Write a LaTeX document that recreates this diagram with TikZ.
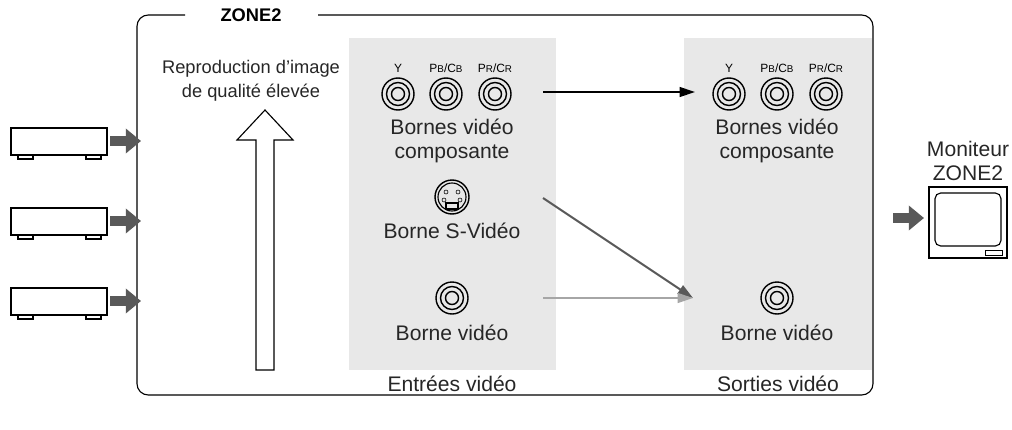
\documentclass[tikz,border=0pt]{standalone}
\usepackage{fontspec}
\setmainfont{Liberation Sans}
\usetikzlibrary{arrows.meta}
\usetikzlibrary{positioning}
\definecolor{panelgray}{gray}{0.91}
\definecolor{arrowgray}{gray}{0.35}
\tikzset{
  lbl/.style={font=\fontsize{15}{17}\selectfont, align=center, text=black!85},
  tiny/.style={font=\fontsize{8.5}{9}\selectfont},
  jack/.style={circle, draw, line width=1pt, minimum size=32*0.025cm, inner sep=0pt},
  blockarrow/.style={arrowgray, line width=0.27cm, -{Triangle[length=0.38cm, width=0.6cm]}},
}
% rca jack with rings
\newcommand{\rcajack}[3]{%
  \node[jack] (#3) at (#1,#2) {};
  \draw[line width=1pt] (#1,#2) circle (11.5);
  \draw[line width=1pt] (#1,#2) circle (6.5);
}
% source device
\newcommand{\srcdev}[2]{%
  \draw[thick, fill=white] (11,#1) rectangle (107,#1+27);
  \draw[thick] (18,#1+27) rectangle (33,#1+31);
  \draw[thick] (86,#1+27) rectangle (101,#1+31);
  \coordinate (#2) at (110,#1+13);
}
\begin{document}
\begin{tikzpicture}[x=0.025cm, y=-0.025cm]
\useasboundingbox (0,0) rectangle (1012,429);
% panels
\fill[panelgray] (349,38) rectangle (556,370);
\fill[panelgray] (684,38) rectangle (872,370);
% zone frame
\draw[thick, rounded corners=8pt] (185,15) -- (137,15) -- (137,395) -- (873,395) -- (873,15) -- (318,15);
\node[font=\fontsize{13}{15}\selectfont\bfseries] (zonetitle) at (251,15) {ZONE2};
% input connectors
\foreach \x/\n/\t in {398/inY/Y, 446/inPb/{P{\scriptsize B}/C{\scriptsize B}}, 495/inPr/{P{\scriptsize R}/C{\scriptsize R}}}{
  \rcajack{\x}{94}{\n}
  \node[tiny] at (\x,68) {\t};
}
\node[lbl] (incomp) at (452,141) {Bornes vidéo\\composante};
% s-video
\node[jack, minimum size=34*0.025cm] (insv) at (452,197) {};
\draw[thick] (452,197) circle (14);
\foreach \dx/\dy in {-6/-5, 6/-5, -8/3, 8/3}{
  \draw (452+\dx,197+\dy) circle (2);
}
\draw[thick] (446,203) rectangle (458,209);
\node[lbl] (insvlbl) at (452,231) {Borne S-Vidéo};
\rcajack{452}{298}{invid}
\node[lbl] (invidlbl) at (452,333) {Borne vidéo};
% output connectors
\foreach \x/\n/\t in {729/outY/Y, 777/outPb/{P{\scriptsize B}/C{\scriptsize B}}, 826/outPr/{P{\scriptsize R}/C{\scriptsize R}}}{
  \rcajack{\x}{94}{\n}
  \node[tiny] at (\x,68) {\t};
}
\node[lbl] (outcomp) at (777,141) {Bornes vidéo\\composante};
\rcajack{777}{298}{outvid}
\node[lbl] (outvidlbl) at (777,333) {Borne vidéo};
% captions
\node[lbl] (inlbl) at (452,384) {Entrées vidéo};
\node[lbl] (outlbl) at (778,384) {Sorties vidéo};
% signal arrows
\coordinate (cfrom) at (543,92);
\coordinate (cto) at (695,92);
\coordinate (sfrom) at (543,198);
\coordinate (vfrom) at (543,298);
\coordinate (vto) at (693,298);
\draw[line width=1.4pt, -{Triangle[length=11pt, width=7pt]}] (cfrom) -- (cto);
\draw[line width=1.4pt, black!65, -{Triangle[length=11pt, width=7pt]}] (sfrom) -- (vto);
\draw[line width=1.4pt, black!35, -{Triangle[length=11pt, width=7pt]}] (vfrom) -- (vto);
% quality arrow
\draw[thick, fill=white] (256,370) -- (256,140) -- (237,140) -- (265,110) -- (293,140) -- (274,140) -- (274,370) -- cycle;
\node[lbl, font=\fontsize{13}{17}\selectfont] (quality) at (251,81) {Reproduction d’image\\de qualité élevée};
% sources
\srcdev{128}{srcA}
\srcdev{208}{srcB}
\srcdev{288}{srcC}
\foreach \s in {srcA,srcB,srcC}{
  \draw[blockarrow] (\s) -- ++(31,0);
}
% monitor
\node[lbl] (monlbl) at (968,161) {Moniteur\\ZONE2};
\draw[thick, fill=white] (929,187) rectangle (1007,258);
\draw[thick, rounded corners=4pt] (935,193) rectangle (1001,246);
\draw (985,250) rectangle (1002,255);
\coordinate (monin) at (893,218);
\draw[blockarrow] (monin) -- ++(31,0);
\end{tikzpicture}
\end{document}
